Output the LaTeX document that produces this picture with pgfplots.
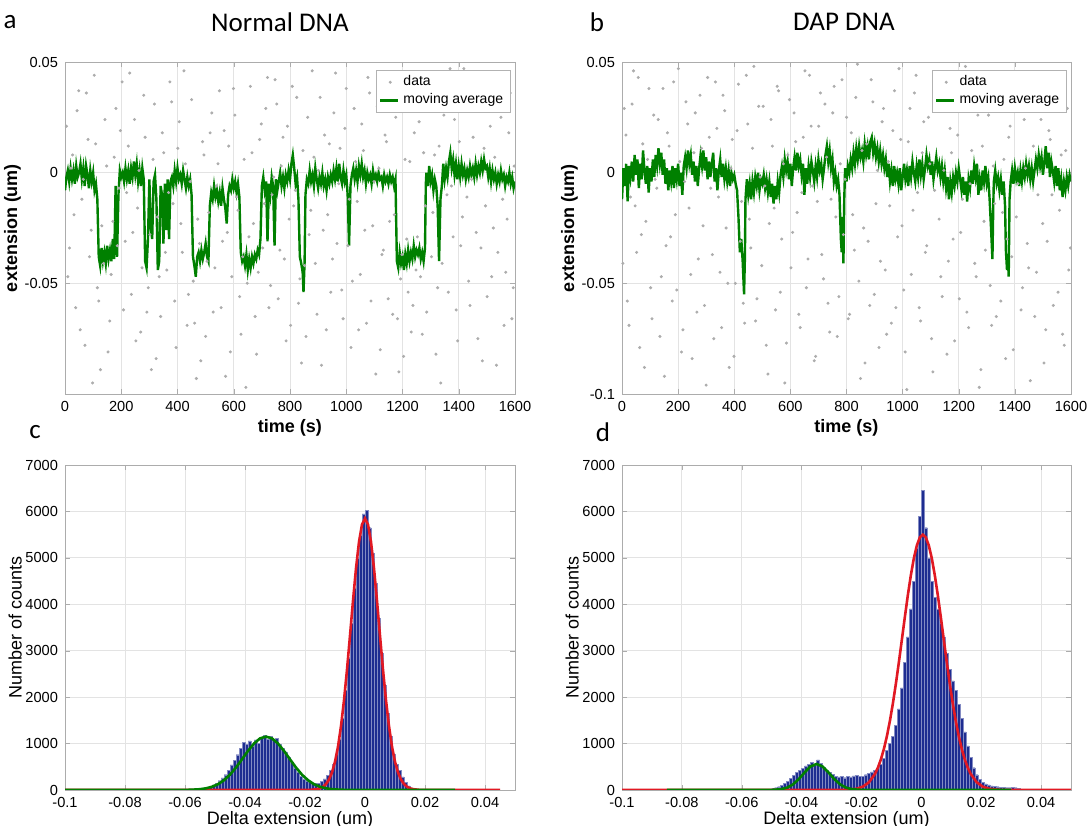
\documentclass[border=0pt]{standalone}
\usepackage{fontspec}
\setmainfont{Liberation Sans}
\newfontfamily\cali{Carlito}
\usepackage{pgfplots}
\usepackage{pgfplotstable}
\pgfplotsset{compat=1.18}

\definecolor{mgreen}{rgb}{0,0.5,0}
\definecolor{mblue}{RGB}{30,45,145}
\definecolor{mred}{RGB}{225,25,35}

% raw extension samples (thinned) -- normal DNA
\pgfplotstableread{
t y
5 0.021
16 -0.034
27 0.008
38 -0.061
49 0.037
60 -0.012
71 -0.078
82 0.015
93 -0.026
104 0.044
115 -0.052
126 -0.089
137 -0.041
148 0.003
159 -0.067
170 -0.022
181 0.029
192 -0.007
203 0.041
214 -0.031
225 0.012
236 -0.055
247 0.024
258 -0.016
269 -0.072
280 0.035
291 -0.063
302 -0.028
313 0.006
324 -0.084
335 -0.047
346 0.018
357 -0.036
368 -0.009
379 0.032
390 -0.058
401 0.011
412 -0.023
423 0.046
434 -0.069
445 -0.004
456 -0.049
467 -0.093
478 -0.032
489 0.014
500 -0.074
511 -0.018
522 0.027
533 -0.043
544 0.004
555 -0.061
566 0.019
577 -0.027
588 -0.081
599 0.038
610 -0.011
621 -0.056
632 -0.038
643 -0.097
654 -0.029
665 0.009
676 -0.065
687 -0.045
698 0.022
709 -0.014
720 0.043
731 -0.051
742 -0.002
753 0.031
764 -0.035
775 0.016
786 -0.076
797 -0.021
808 0.039
819 -0.008
830 -0.059
841 -0.086
852 -0.042
863 0.025
874 -0.017
885 0.007
896 -0.064
907 0.034
918 -0.026
929 -0.071
940 0.013
951 -0.039
962 0.045
973 -0.005
984 -0.053
995 0.020
1006 -0.033
1017 -0.079
1028 0.029
1039 -0.013
1050 -0.046
1061 0.010
1072 -0.068
1083 0.036
1094 -0.024
1105 -0.091
1116 0.002
1127 -0.037
1138 0.017
1149 -0.057
1160 0.042
1171 -0.019
1182 -0.066
1193 -0.048
1204 -0.083
1215 -0.030
1226 0.005
1237 -0.060
1248 -0.044
1259 0.023
1270 -0.073
1281 -0.015
1292 0.033
1303 -0.038
1314 0.008
1325 -0.052
1336 -0.095
1347 0.026
1358 -0.010
1369 0.047
1380 -0.029
1391 -0.062
1402 0.014
1413 -0.020
1424 0.039
1435 -0.049
1446 -0.003
1457 0.028
1468 -0.075
1479 -0.034
1490 0.011
1501 -0.056
1512 0.021
1523 -0.025
1534 -0.087
1545 0.040
1556 -0.012
1567 -0.045
1578 0.018
1589 -0.066
1597 0.003
10 -0.047
21 0.002
32 -0.019
43 0.028
54 -0.071
65 -0.003
76 0.036
87 -0.038
98 -0.095
109 0.013
120 -0.058
131 -0.024
142 0.024
153 -0.081
164 -0.046
175 0.007
186 -0.033
197 0.019
208 -0.062
219 -0.009
230 0.045
241 -0.027
252 -0.076
263 0.001
274 -0.043
285 0.016
296 -0.052
307 -0.089
318 0.031
329 -0.020
340 -0.065
351 0.009
362 -0.044
373 0.041
384 -0.014
395 -0.079
406 0.023
417 -0.036
428 0.004
439 -0.055
450 0.033
461 -0.068
472 -0.021
483 -0.085
494 0.008
505 -0.040
516 0.018
527 -0.063
538 -0.006
549 0.037
560 -0.031
571 -0.092
582 0.012
593 -0.047
604 0.026
615 -0.017
626 -0.073
637 0.006
648 -0.050
659 0.039
670 -0.023
681 -0.082
692 0.015
703 -0.034
714 0.029
725 -0.061
736 -0.010
747 0.042
758 -0.057
769 0.003
780 -0.039
791 0.021
802 -0.069
813 -0.015
824 0.034
835 -0.048
846 0.010
857 -0.074
868 -0.028
879 0.046
890 -0.041
901 0.001
912 -0.087
923 0.017
934 -0.019
945 -0.054
956 0.027
967 -0.032
978 0.011
989 -0.066
1000 0.038
1011 -0.012
1022 -0.049
1033 0.005
1044 -0.071
1055 0.022
1066 -0.026
1077 0.043
1088 -0.058
1099 -0.004
1110 0.030
1121 -0.080
1132 -0.035
1143 0.014
1154 -0.022
1165 -0.064
1176 0.025
1187 -0.090
1198 -0.037
1209 0.006
1220 -0.054
1231 -0.072
1242 0.018
1253 -0.029
1264 -0.047
1275 0.009
1286 -0.063
1297 0.040
1308 -0.018
1319 -0.082
1330 0.012
1341 -0.041
1352 0.035
1363 -0.054
1374 -0.006
1385 0.024
1396 -0.076
1407 -0.033
1418 0.047
1429 -0.011
1440 -0.060
1451 0.016
1462 -0.027
1473 0.031
1484 -0.085
1495 -0.015
1506 0.041
1517 -0.047
1528 0.007
1539 -0.036
1550 0.025
1561 -0.069
1572 -0.021
1583 0.036
1594 -0.052
}\rawa

% raw extension samples (thinned) -- DAP DNA
\pgfplotstableread{
t y
3 -0.041
14 0.017
25 -0.069
36 0.031
47 -0.015
58 0.043
69 -0.028
80 -0.088
91 0.006
102 -0.052
113 0.026
124 -0.007
135 -0.074
146 0.038
157 -0.033
168 0.012
179 -0.058
190 -0.019
201 0.047
212 -0.081
223 -0.004
234 0.022
245 -0.046
256 0.009
267 -0.063
278 0.035
289 -0.024
300 -0.096
311 0.016
322 -0.037
333 0.041
344 -0.011
355 -0.070
366 0.028
377 -0.050
388 0.002
399 -0.083
410 0.019
421 -0.031
432 -0.059
443 0.044
454 -0.021
465 0.011
476 -0.067
487 0.030
498 -0.042
509 -0.006
520 -0.091
531 0.024
542 -0.016
553 0.039
564 -0.054
575 0.004
586 -0.077
597 0.033
608 -0.027
619 0.014
630 -0.064
641 -0.009
652 0.046
663 -0.039
674 0.021
685 -0.085
696 -0.013
707 0.036
718 -0.048
729 0.007
740 -0.072
751 0.027
762 -0.020
773 -0.056
784 0.042
795 -0.003
806 -0.066
817 0.018
828 -0.035
839 0.049
850 -0.093
861 -0.025
872 0.013
883 -0.060
894 0.032
905 -0.014
916 -0.079
927 0.023
938 -0.044
949 0.005
960 -0.068
971 0.037
982 -0.029
993 0.015
1004 -0.053
1015 -0.098
1026 0.029
1037 -0.017
1048 0.044
1059 -0.061
1070 0.009
1081 -0.036
1092 0.025
1103 -0.075
1114 -0.008
1125 0.040
1136 -0.047
1147 0.001
1158 -0.082
1169 0.020
1180 -0.030
1191 0.034
1202 -0.057
1213 -0.012
1224 0.048
1235 -0.070
1246 0.010
1257 -0.041
1268 0.026
1279 -0.089
1290 -0.022
1301 0.038
1312 -0.051
1323 0.003
1334 -0.065
1345 0.031
1356 -0.018
1367 -0.084
1378 0.016
1389 -0.038
1400 0.043
1411 -0.005
1422 -0.062
1433 0.024
1444 -0.032
1455 -0.094
1466 0.012
1477 -0.045
1488 0.035
1499 -0.023
1510 -0.071
1521 0.019
1532 -0.010
1543 0.045
1554 -0.054
1565 0.008
1576 -0.078
1587 0.029
1598 -0.034
8 0.029
19 -0.058
30 -0.011
41 0.046
52 -0.036
63 -0.079
74 0.013
85 -0.022
96 0.038
107 -0.066
118 -0.003
129 0.024
140 -0.047
151 -0.092
162 0.018
173 -0.029
184 0.041
195 -0.053
206 0.005
217 -0.071
228 0.032
239 -0.016
250 -0.084
261 0.027
272 -0.039
283 0.011
294 -0.060
305 0.043
316 -0.007
327 -0.075
338 0.020
349 -0.045
360 0.035
371 -0.025
382 -0.088
393 0.015
404 -0.050
415 0.040
426 -0.013
437 -0.068
448 0.022
459 -0.034
470 0.048
481 -0.057
492 -0.002
503 0.030
514 -0.078
525 -0.023
536 0.012
547 -0.062
558 0.037
569 -0.030
580 -0.095
591 0.008
602 -0.043
613 0.027
624 -0.018
635 -0.070
646 0.016
657 -0.052
668 0.044
679 -0.006
690 -0.083
701 0.021
712 -0.037
723 0.031
734 -0.059
745 -0.012
756 0.039
767 -0.074
778 0.004
789 -0.028
800 0.025
811 -0.064
822 -0.019
833 0.034
844 -0.049
855 0.010
866 -0.086
877 -0.031
888 0.042
899 -0.055
910 0.001
921 -0.040
932 0.029
943 -0.073
954 -0.015
965 0.019
976 -0.061
987 0.047
998 -0.024
1009 -0.081
1020 0.014
1031 -0.046
1042 0.036
1053 -0.009
1064 -0.067
1075 0.023
1086 -0.033
1097 0.004
1108 -0.090
1119 0.028
1130 -0.021
1141 -0.056
1152 0.038
1163 -0.040
1174 0.009
1185 -0.076
1196 0.017
1207 -0.027
1218 0.045
1229 -0.063
1240 -0.005
1251 0.032
1262 -0.047
1273 -0.097
1284 0.012
1295 -0.035
1306 0.026
1317 -0.069
1328 -0.014
1339 0.040
1350 -0.058
1361 0.006
1372 -0.030
1383 0.021
1394 -0.080
1405 -0.020
1416 0.035
1427 -0.052
1438 0.002
1449 -0.043
1460 0.044
1471 -0.065
1482 -0.010
1493 0.024
1504 -0.086
1515 -0.031
1526 0.015
1537 -0.060
1548 0.033
1559 -0.017
1570 -0.073
1581 0.010
1592 -0.044
}\rawb

% moving average -- normal DNA
\pgfplotstableread{
t y
0 -0.008
5 -0.002
10 0.001
15 -0.004
20 0.002
25 -0.003
30 0.001
35 -0.005
40 0.003
45 -0.002
50 0.000
55 0.004
60 -0.003
65 0.002
70 -0.006
75 0.003
80 -0.001
85 -0.007
90 0.001
95 -0.004
100 0.000
105 -0.008
110 -0.005
115 -0.012
120 -0.038
125 -0.042
130 -0.034
135 -0.040
140 -0.036
145 -0.041
150 -0.033
155 -0.039
160 -0.035
165 -0.040
170 -0.030
175 -0.039
180 -0.006
185 -0.038
190 -0.010
195 0.001
200 -0.002
205 0.000
210 -0.004
215 0.002
220 -0.003
225 0.001
230 -0.005
235 0.002
240 -0.002
245 0.005
250 -0.001
255 0.004
260 -0.004
265 0.001
270 -0.006
275 0.002
280 -0.003
285 -0.040
290 -0.043
295 -0.030
300 -0.003
305 -0.025
310 -0.030
315 -0.004
320 -0.001
325 -0.012
330 -0.044
335 -0.040
340 -0.006
345 -0.010
350 -0.032
355 -0.005
360 -0.026
365 -0.003
370 -0.030
375 -0.004
380 -0.002
385 -0.006
390 0.001
395 -0.004
400 0.002
405 -0.003
410 -0.001
415 -0.005
420 0.001
425 -0.003
430 -0.007
435 -0.002
440 -0.006
445 -0.003
450 -0.010
455 -0.038
460 -0.042
465 -0.047
470 -0.038
475 -0.036
480 -0.040
485 -0.035
490 -0.039
495 -0.036
500 -0.032
505 -0.038
510 -0.040
515 -0.015
520 -0.009
525 -0.012
530 -0.006
535 -0.011
540 -0.008
545 -0.013
550 -0.009
555 -0.015
560 -0.007
565 -0.012
570 -0.016
575 -0.023
580 -0.010
585 -0.006
590 -0.008
595 -0.003
600 -0.007
605 -0.004
610 -0.009
615 -0.005
620 -0.011
625 -0.036
630 -0.040
635 -0.038
640 -0.042
645 -0.037
650 -0.044
655 -0.039
660 -0.043
665 -0.038
670 -0.041
675 -0.037
680 -0.039
685 -0.035
690 -0.037
695 -0.030
700 -0.006
705 -0.002
710 -0.008
715 -0.004
720 -0.031
725 -0.005
730 -0.010
735 -0.002
740 -0.006
745 -0.033
750 -0.003
755 -0.008
760 -0.004
765 0.000
770 -0.006
775 -0.002
780 -0.007
785 -0.001
790 -0.004
795 0.001
800 -0.003
805 0.004
810 0.008
815 0.002
820 -0.005
825 -0.002
830 -0.012
835 -0.038
840 -0.041
845 -0.045
848 -0.054
852 -0.040
855 -0.010
860 -0.003
865 -0.005
870 0.001
875 -0.004
880 -0.001
885 -0.006
890 0.002
895 -0.003
900 -0.007
905 -0.002
910 -0.005
915 0.000
920 -0.006
925 -0.003
930 -0.008
935 -0.002
940 -0.005
945 -0.001
950 -0.004
955 0.001
960 -0.003
965 0.002
970 -0.004
975 0.004
980 -0.002
985 -0.005
990 0.001
995 -0.004
1000 -0.001
1005 -0.010
1010 -0.033
1015 -0.006
1020 -0.001
1025 0.002
1030 -0.003
1035 0.001
1040 -0.004
1045 0.003
1050 -0.001
1055 0.004
1060 -0.002
1065 0.001
1070 -0.005
1075 0.000
1080 -0.003
1085 -0.001
1090 -0.005
1095 0.001
1100 -0.003
1105 -0.001
1110 -0.004
1115 0.000
1120 -0.003
1125 -0.002
1130 -0.006
1135 -0.001
1140 -0.004
1145 -0.002
1150 -0.005
1155 -0.001
1160 -0.004
1165 -0.002
1170 -0.006
1175 -0.003
1180 -0.040
1185 -0.043
1190 -0.036
1195 -0.041
1200 -0.038
1205 -0.044
1210 -0.037
1215 -0.041
1220 -0.035
1225 -0.040
1230 -0.036
1235 -0.039
1240 -0.033
1245 -0.038
1250 -0.035
1255 -0.037
1260 -0.034
1265 -0.039
1270 -0.036
1275 -0.040
1280 -0.034
1283 -0.005
1285 0.000
1290 -0.006
1295 0.003
1300 -0.004
1305 -0.001
1310 -0.008
1315 -0.003
1320 -0.006
1325 -0.015
1330 -0.040
1335 -0.012
1340 -0.006
1345 0.004
1350 -0.003
1355 0.002
1360 -0.002
1365 0.005
1370 0.009
1375 0.002
1380 0.006
1385 -0.001
1390 0.004
1395 -0.003
1400 0.003
1405 -0.002
1410 0.004
1415 -0.001
1420 0.002
1425 -0.003
1430 0.001
1435 -0.002
1440 0.003
1445 -0.001
1450 0.002
1455 -0.002
1460 0.004
1465 -0.001
1470 0.003
1475 0.000
1480 0.005
1485 0.001
1490 0.006
1495 0.002
1500 0.003
1505 -0.002
1510 0.002
1515 -0.004
1520 0.001
1525 -0.003
1530 0.000
1535 -0.005
1540 -0.001
1545 -0.004
1550 0.001
1555 -0.003
1560 -0.001
1565 -0.006
1570 -0.002
1575 -0.004
1580 0.000
1585 -0.005
1590 -0.002
1595 -0.007
1600 -0.004
}\mava

% moving average -- DAP DNA
\pgfplotstableread{
t y
0 -0.012
5 0.002
10 -0.006
15 0.004
20 -0.013
25 0.003
30 -0.002
35 0.005
40 -0.004
45 0.008
50 -0.001
55 0.006
60 -0.007
65 0.004
70 -0.003
75 0.010
80 0.001
85 -0.005
90 0.003
95 -0.009
100 0.002
105 -0.004
110 0.006
115 -0.002
120 0.008
125 0.003
130 0.011
135 0.004
140 0.009
145 -0.001
150 0.006
155 -0.005
160 0.002
165 -0.008
170 0.001
175 -0.004
180 0.003
185 -0.007
190 0.002
195 -0.003
200 0.004
205 -0.006
210 0.000
215 -0.010
220 0.003
225 0.007
230 0.002
235 0.010
240 0.004
245 0.008
250 -0.001
255 0.005
260 -0.004
265 0.003
270 -0.006
275 0.002
280 0.008
285 0.003
290 0.010
295 0.001
300 0.007
305 -0.003
310 0.005
315 -0.002
320 0.004
325 0.009
330 -0.004
335 0.002
340 -0.008
345 0.001
350 0.006
355 -0.002
360 0.004
365 -0.003
370 0.002
375 -0.004
380 0.001
385 -0.006
390 0.000
395 -0.003
400 -0.001
405 -0.005
410 -0.008
415 -0.020
420 -0.036
425 -0.030
430 -0.040
435 -0.055
438 -0.038
440 -0.012
445 -0.003
450 -0.010
455 -0.005
460 -0.012
465 -0.004
470 -0.009
475 -0.002
480 -0.006
485 0.000
490 -0.008
495 -0.003
500 -0.005
505 -0.001
510 -0.007
515 -0.003
520 -0.009
525 -0.004
530 -0.011
535 -0.005
540 -0.014
545 -0.006
550 -0.012
555 -0.004
560 -0.009
565 -0.001
570 0.003
575 -0.002
580 0.006
585 0.001
590 0.005
595 -0.003
600 0.004
605 -0.006
610 0.002
615 0.007
620 0.001
625 0.009
630 0.003
635 0.006
640 -0.001
645 0.004
650 -0.010
655 0.002
660 -0.005
665 0.003
670 -0.002
675 0.005
680 0.001
685 -0.004
690 0.003
695 -0.002
700 0.006
705 0.001
710 0.004
715 -0.003
720 0.002
725 0.008
730 0.012
735 0.005
740 0.010
745 0.002
750 0.006
755 -0.004
760 0.000
765 -0.006
770 -0.003
775 -0.010
780 -0.030
783 -0.036
786 -0.020
789 -0.041
792 -0.012
795 0.002
800 -0.004
805 0.003
810 0.000
815 0.006
820 0.002
825 0.009
830 0.004
835 0.011
840 0.006
845 0.012
850 0.007
855 0.010
860 0.005
865 0.013
870 0.008
875 0.012
880 0.006
885 0.014
890 0.016
895 0.009
900 0.013
905 0.007
910 0.011
915 0.005
920 0.010
925 0.004
930 0.008
935 0.002
940 0.006
945 -0.002
950 0.004
955 -0.004
960 0.001
965 -0.006
970 0.003
975 -0.003
980 0.000
985 -0.005
990 0.002
995 -0.008
1000 -0.002
1005 0.004
1010 -0.003
1015 0.001
1020 -0.006
1025 0.003
1030 -0.002
1035 0.005
1040 0.000
1045 -0.004
1050 0.003
1055 -0.002
1060 0.006
1065 -0.001
1070 0.004
1075 -0.003
1080 0.002
1085 0.008
1090 0.003
1095 0.006
1100 -0.001
1105 0.005
1110 -0.003
1115 0.002
1120 0.007
1125 0.001
1130 0.004
1135 -0.002
1140 0.003
1145 -0.004
1150 0.001
1155 -0.007
1160 -0.002
1165 -0.012
1170 -0.004
1175 -0.009
1180 -0.002
1185 -0.006
1190 0.000
1195 -0.004
1200 0.002
1205 -0.003
1210 -0.008
1215 -0.002
1220 -0.010
1225 -0.004
1230 -0.013
1235 -0.003
1240 -0.007
1245 0.001
1250 -0.005
1255 0.003
1260 -0.002
1265 0.004
1270 -0.010
1275 -0.003
1280 -0.008
1285 0.001
1290 -0.004
1295 0.003
1300 -0.005
1305 -0.002
1310 -0.012
1315 -0.025
1320 -0.039
1323 -0.015
1325 -0.004
1330 0.001
1335 -0.005
1340 -0.002
1345 -0.008
1350 -0.003
1355 -0.010
1360 -0.004
1365 -0.015
1368 -0.035
1372 -0.044
1375 -0.038
1378 -0.047
1381 -0.012
1385 -0.004
1390 0.001
1395 -0.005
1400 0.002
1405 -0.003
1410 0.000
1415 -0.006
1420 0.001
1425 -0.004
1430 0.002
1435 -0.002
1440 0.004
1445 -0.001
1450 0.003
1455 -0.003
1460 0.002
1465 -0.004
1470 0.001
1475 0.006
1480 0.002
1485 0.008
1490 0.003
1495 0.007
1500 -0.001
1505 0.005
1510 0.012
1515 0.002
1520 0.009
1525 -0.002
1530 0.005
1535 0.001
1540 -0.004
1545 0.003
1550 -0.006
1555 0.002
1560 -0.008
1565 -0.003
1570 -0.011
1575 -0.004
1580 -0.008
1585 -0.002
1590 -0.006
1595 -0.001
1600 -0.004
}\mavb

% histogram c: left bin edge, counts
\pgfplotstableread{
x y
-0.055 20
-0.054 35
-0.053 50
-0.052 75
-0.051 110
-0.050 140
-0.049 200
-0.048 260
-0.047 330
-0.046 420
-0.045 540
-0.044 640
-0.043 760
-0.042 900
-0.041 1020
-0.040 980
-0.039 1060
-0.038 950
-0.037 1080
-0.036 1010
-0.035 1120
-0.034 1180
-0.033 1090
-0.032 1150
-0.031 1080
-0.030 1110
-0.029 990
-0.028 900
-0.027 820
-0.026 700
-0.025 600
-0.024 480
-0.023 380
-0.022 300
-0.021 240
-0.020 200
-0.019 170
-0.018 150
-0.017 140
-0.016 150
-0.015 180
-0.014 240
-0.013 320
-0.012 430
-0.011 560
-0.010 780
-0.009 1100
-0.008 1550
-0.007 2150
-0.006 2850
-0.005 3600
-0.004 4350
-0.003 5000
-0.002 5500
-0.001 5950
0.000 6020
0.001 5650
0.002 5100
0.003 4450
0.004 3700
0.005 2950
0.006 2250
0.007 1650
0.008 1150
0.009 780
0.010 560
0.011 420
0.012 280
0.013 170
0.014 90
0.015 45
0.016 20
0.017 8
0.018 0
}\histc

% histogram d: left bin edge, counts
\pgfplotstableread{
x y
-0.050 30
-0.049 50
-0.048 70
-0.047 100
-0.046 140
-0.045 190
-0.044 250
-0.043 320
-0.042 380
-0.041 430
-0.040 470
-0.039 520
-0.038 560
-0.037 590
-0.036 540
-0.035 650
-0.034 570
-0.033 490
-0.032 430
-0.031 380
-0.030 340
-0.029 300
-0.028 280
-0.027 290
-0.026 265
-0.025 295
-0.024 280
-0.023 305
-0.022 315
-0.021 300
-0.020 290
-0.019 330
-0.018 360
-0.017 390
-0.016 420
-0.015 470
-0.014 560
-0.013 680
-0.012 850
-0.011 1000
-0.010 1150
-0.009 1400
-0.008 1750
-0.007 2200
-0.006 2750
-0.005 3300
-0.004 3900
-0.003 4500
-0.002 5200
-0.001 5900
0.000 6450
0.001 5650
0.002 5000
0.003 4500
0.004 4150
0.005 3900
0.006 3600
0.007 3300
0.008 2950
0.009 2600
0.010 2350
0.011 2150
0.012 1850
0.013 1550
0.014 1250
0.015 950
0.016 700
0.017 480
0.018 330
0.019 230
0.020 170
0.021 130
0.022 110
0.023 90
0.024 80
0.025 70
0.026 60
0.027 55
0.028 50
0.029 50
0.030 55
0.031 50
0.032 40
0.033 10
0.034 0
}\histd

\pgfplotsset{
  panel/.style={
    scale only axis,
    anchor=south west,
    grid=major,
    major grid style={gray!22, line width=0.4pt},
    axis line style={gray!65},
    tick style={gray!65},
    major tick length=2.5pt,
    tick align=inside,
    scaled ticks=false,
    ticklabel style={font=\fontsize{7.3}{8}\selectfont},
    ylabel shift=-5pt,
  },
  tsplot/.style={
    panel,
    width=225pt, height=166pt,
    xmin=0, xmax=1600, ymin=-0.1, ymax=0.05,
    xtick={0,200,400,600,800,1000,1200,1400,1600},
    xticklabels={0,200,400,600,800,1000,1200,1400,1600},
    xlabel={time (s)},
    ylabel={extension (um)},
    label style={font=\fontsize{9}{10}\selectfont\bfseries},
    xlabel style={yshift=3pt},
    legend style={at={(rel axis cs:0.99,0.975)}, anchor=north east,
      draw=gray!60, font=\fontsize{7}{8}\selectfont,
      inner xsep=1.5pt, inner ysep=0.5pt, row sep=-1.5pt},
    legend cell align=left,
  },
  hplot/.style={
    panel,
    width=225pt, height=162.5pt,
    xmin=-0.1, xmax=0.05, ymin=0, ymax=7000,
    xtick={-0.1,-0.08,-0.06,-0.04,-0.02,0,0.02,0.04},
    xticklabels={-0.1,-0.08,-0.06,-0.04,-0.02,0,0.02,0.04},
    ytick={0,1000,2000,3000,4000,5000,6000,7000},
    yticklabels={0,1000,2000,3000,4000,5000,6000,7000},
    xlabel={Delta extension (um)},
    ylabel={Number of counts},
    label style={font=\fontsize{9}{10}\selectfont},
    xlabel style={yshift=5pt},
  },
  rawdots/.style={only marks, mark=*, mark size=0.55pt,
    color=black!32, mark options={draw=none, fill=black!32},
    legend image code/.code={\fill[black!32] (5pt,0pt) circle (0.55pt);}},
  mavline/.style={mgreen, line width=1.2pt,
    legend image code/.code={\draw[mgreen, line width=1.2pt] (0pt,0pt) -- (9pt,0pt);}},
  bars/.style={ybar interval, fill=mblue, draw=mblue!55!white, line width=0.15pt},
}

\begin{document}
\begin{tikzpicture}
\useasboundingbox (0,0) rectangle (544.5pt,413pt);

\node[font=\cali\fontsize{13.5}{15}\selectfont] at (140pt,402pt) {Normal DNA};
\node[font=\cali\fontsize{13.5}{15}\selectfont] at (422pt,402pt) {DAP DNA};
\node[font=\cali\fontsize{13.5}{15}\selectfont] at (5pt,402pt) {a};
\node[font=\cali\fontsize{13.5}{15}\selectfont] at (298.5pt,402pt) {b};
\node[font=\cali\fontsize{13.5}{15}\selectfont] at (17.5pt,197pt) {c};
\node[font=\cali\fontsize{13.5}{15}\selectfont] at (301.5pt,197pt) {d};

% a
\begin{axis}[tsplot, at={(32.5pt,216pt)},
  ytick={-0.05,0,0.05}, yticklabels={-0.05,0,0.05}]
\addplot[rawdots] table {\rawa};
\addlegendentry{data}
\addplot[mavline] table {\mava};
\addlegendentry{moving average}
\end{axis}

% b
\begin{axis}[tsplot, at={(311pt,216pt)}, width=224.5pt,
  ytick={-0.1,-0.05,0,0.05}, yticklabels={-0.1,-0.05,0,0.05}]
\addplot[rawdots] table {\rawb};
\addlegendentry{data}
\addplot[mavline] table {\mavb};
\addlegendentry{moving average}
\end{axis}

% c
\begin{axis}[hplot, at={(32.5pt,18pt)}]
\addplot[bars] table {\histc};
\addplot[mred, line width=1.3pt] coordinates {
(-0.1,0) (-0.02,0.7) (-0.018,4) (-0.016,18) (-0.015,36) (-0.014,69) (-0.013,128)
(-0.012,225) (-0.011,378) (-0.010,608) (-0.009,934) (-0.008,1374) (-0.007,1930)
(-0.006,2590) (-0.005,3322) (-0.004,4073) (-0.003,4772) (-0.002,5344) (-0.001,5719)
(0,5850) (0.001,5719) (0.002,5344) (0.003,4772) (0.004,4073) (0.005,3322)
(0.006,2590) (0.007,1930) (0.008,1374) (0.009,934) (0.010,608) (0.011,378)
(0.012,225) (0.013,128) (0.014,69) (0.015,36) (0.016,18) (0.018,4) (0.02,0.7) (0.045,0)};
\addplot[mgreen, line width=1.3pt] coordinates {
(-0.1,0) (-0.063,0.5) (-0.058,5) (-0.055,17) (-0.053,36) (-0.051,70) (-0.049,125)
(-0.047,211) (-0.045,330) (-0.043,484) (-0.041,661) (-0.039,842) (-0.037,1001)
(-0.035,1111) (-0.033,1150) (-0.031,1111) (-0.029,1001) (-0.027,842) (-0.025,661)
(-0.023,484) (-0.021,330) (-0.019,211) (-0.017,125) (-0.015,70) (-0.013,36)
(-0.011,17) (-0.008,5) (-0.003,0.5) (0.03,0)};
\end{axis}

% d
\begin{axis}[hplot, at={(311pt,18pt)}, width=224.5pt]
\addplot[bars] table {\histd};
\addplot[mred, line width=1.3pt] coordinates {
(-0.1,0) (-0.028,0) (-0.0245,6) (-0.0215,29) (-0.0195,73) (-0.0175,166) (-0.0155,346)
(-0.0145,483) (-0.0135,661) (-0.0125,885) (-0.0115,1160) (-0.0105,1488)
(-0.0095,1866) (-0.0085,2290) (-0.0075,2753) (-0.0065,3238) (-0.0055,3728)
(-0.0045,4198) (-0.0035,4626) (-0.0025,4990) (-0.0015,5267) (-0.0005,5441)
(0.0005,5500) (0.0015,5441) (0.0025,5267) (0.0035,4990) (0.0045,4626)
(0.0055,4198) (0.0065,3728) (0.0075,3238) (0.0085,2753) (0.0095,2290)
(0.0105,1866) (0.0115,1488) (0.0125,1160) (0.0135,885) (0.0145,661)
(0.0155,483) (0.0165,346) (0.0185,166) (0.0205,73) (0.0225,29) (0.0255,6)
(0.0285,0) (0.05,0)};
\addplot[mgreen, line width=1.3pt] coordinates {
(-0.085,0) (-0.052,0) (-0.05,2) (-0.047,16) (-0.045,47) (-0.043,115) (-0.041,230)
(-0.039,377) (-0.037,507) (-0.035,560) (-0.033,507) (-0.031,377) (-0.029,230)
(-0.027,115) (-0.025,47) (-0.023,16) (-0.02,2) (-0.018,0) (0.03,0)};
\end{axis}
\end{tikzpicture}
\end{document}
